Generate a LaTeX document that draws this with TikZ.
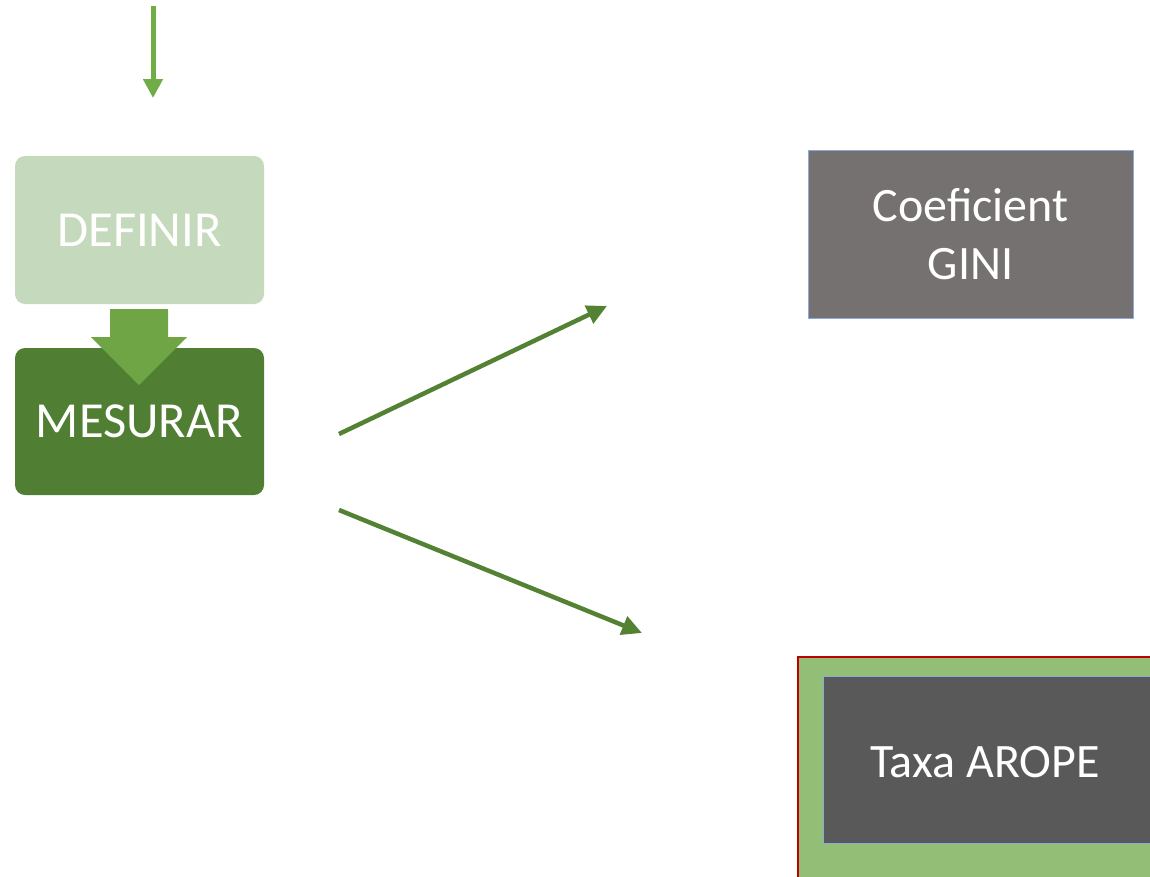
\documentclass[tikz,border=0pt]{standalone}
\usepackage{fontspec}
\setmainfont{Carlito}
\usetikzlibrary{arrows.meta}
\definecolor{defg}{HTML}{C5D9BC}
\definecolor{mesg}{HTML}{507E32}
\definecolor{blockg}{HTML}{6FA544}
\definecolor{lineg}{HTML}{548235}
\definecolor{topg}{HTML}{70AD47}
\definecolor{ginig}{HTML}{767171}
\definecolor{aropeg}{HTML}{595959}
\definecolor{frameg}{HTML}{93BE76}
\definecolor{framer}{HTML}{C00000}
\definecolor{edgeb}{HTML}{8EA9DB}
\begin{document}
\begin{tikzpicture}[x=1pt,y=-1pt,
  steptext/.style={text=white, inner sep=0pt, font=\fontsize{50.5}{60}\selectfont},
  measbox/.style={draw=edgeb, line width=1pt, inner sep=0pt, text=white,
    align=center, font=\fontsize{48}{58}\selectfont},
  conn/.style={draw=lineg, line width=4.5pt,
    -{Triangle[length=20pt,width=19pt]}}
]
\useasboundingbox (0,0) rectangle (1150,876);
% top arrow
\coordinate (topstart) at (153,6);
\coordinate (topend) at (153,98);
\draw[topg, line width=5pt, -{Triangle[length=19pt,width=19pt]}] (topstart) -- (topend);
% step boxes
\path[fill=defg, rounded corners=10pt] (15,156) rectangle (264,304);
\node[steptext] (def) at (139.5,230) {DEFINIR};
\path[fill=mesg, rounded corners=10pt] (15,348) rectangle (264,495);
% block arrow
\fill[blockg] (110,309) -- (168,309) -- (168,337) -- (187,337) -- (139,385)
  -- (91,337) -- (110,337) -- cycle;
\node[steptext] (mes) at (139.5,421) {MESURAR};
% GINI
\node[measbox, fill=ginig, minimum width=325pt, minimum height=168pt] (gini) at (970.5,234) {Coeficient\\GINI};
% AROPE frame
\path[fill=frameg, draw=framer, line width=2.5pt] (798,657) rectangle (1160,890);
\node[measbox, fill=aropeg, minimum width=340pt, minimum height=167pt] (arope) at (993,759.5) {};
\node[text=white, font=\fontsize{48}{58}\selectfont] (aropet) at (985,762) {Taxa AROPE};
% connectors
\coordinate (a1s) at (339,434);
\coordinate (a1e) at (607,306);
\coordinate (a2s) at (339,510);
\coordinate (a2e) at (642,633);
\draw[conn] (a1s) -- (a1e);
\draw[conn] (a2s) -- (a2e);
\end{tikzpicture}
\end{document}
